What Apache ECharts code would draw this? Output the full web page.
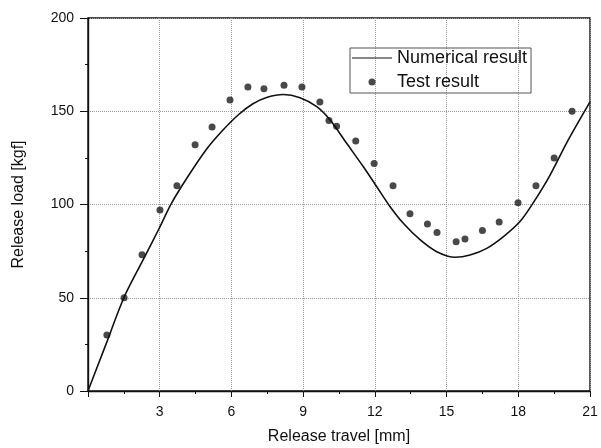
<!DOCTYPE html>
<html>
<head>
<meta charset="utf-8">
<script src="https://cdn.jsdelivr.net/npm/echarts@6/dist/echarts.min.js"></script>
<style>
  html, body { margin: 0; padding: 0; background: #fff; }
  #chart { width: 601px; height: 448px; }
</style>
</head>
<body>
<div id="chart"></div>
<script>
// numerical curve
var numX = [0, 0.75, 1.5, 2.25, 2.97, 3.49, 4.18, 4.95, 5.58, 6.28, 6.9, 7.5, 8.17, 8.87, 9.57, 10.13, 10.82, 11.52, 12.08, 12.6, 13.19, 13.9, 14.59, 15.36, 15.98, 16.68, 17.38, 18.08, 18.63, 19.33, 20.03, 21];
var numY = [0, 25, 50, 69, 87, 100.6, 115, 129.5, 139, 148, 154, 157.5, 159, 157.3, 152.5, 145.3, 132.8, 120.2, 109.5, 99.5, 89.9, 81, 74.7, 71.7, 72.9, 76.5, 82.8, 91, 101, 115.8, 133.2, 155];

// test points
var testX = [0.79, 1.51, 2.26, 3.01, 3.72, 4.48, 5.19, 5.94, 6.69, 7.36, 8.2, 8.95, 9.7, 10.08, 10.4, 11.2, 11.97, 12.76, 13.47, 14.2, 14.6, 15.4, 15.77, 16.5, 17.2, 17.99, 18.74, 19.5, 20.25];
var testY = [30, 50, 73, 97, 110, 132, 141.5, 156, 163, 162, 164, 163, 155, 145, 142, 134, 122, 110, 95, 89.5, 85, 80, 81.5, 86, 90.6, 101, 110, 125, 150];

var xTicks = [3, 6, 9, 12, 15, 18, 21];

function pairs(xs, ys) {
    var out = [];
    for (var i = 0; i < xs.length; i++) out.push([xs[i], ys[i]]);
    return out;
}

var chart = echarts.init(document.getElementById('chart'));
var font = 'Liberation Sans, Arial, sans-serif';
var option = {
    backgroundColor: '#fff',
    animation: false,
    textStyle: { fontFamily: font },
    grid: {
        left: 88, right: 11, top: 18, bottom: 57, outerBoundsMode: 'none',
        show: true, borderColor: '#111', borderWidth: 1.4
    },
    legend: {
        left: 350, top: 48, orient: 'vertical',
        itemGap: 6, itemWidth: 40, itemHeight: 7,
        borderColor: '#555', borderWidth: 1, padding: [1, 4, 2, 2],
        textStyle: { fontSize: 18, color: '#111', fontFamily: font, padding: [0, 0, 0, 0] },
        data: [
            { name: 'Numerical result', icon: 'path://M0,0L40,0L40,1L0,1Z' },
            { name: 'Test result', icon: 'circle' }
        ]
    },
    xAxis: {
        type: 'value', min: 0, max: 21, interval: 3,
        name: 'Release travel [mm]', nameLocation: 'middle', nameGap: 38,
        nameTextStyle: { fontSize: 16, color: '#111', fontFamily: font },
        axisLine: { lineStyle: { color: '#111', width: 1.4 } },
        axisTick: { lineStyle: { color: '#111' }, length: 6 },
        minorTick: { show: true, splitNumber: 2, length: 3, lineStyle: { color: '#111' } },
        axisLabel: {
            fontSize: 14, color: '#111', margin: 14,
            formatter: function (v) { return xTicks.indexOf(v) >= 0 ? String(v) : ''; }
        },
        splitLine: { show: true, lineStyle: { type: 'dotted', color: '#999' } }
    },
    yAxis: {
        type: 'value', min: 0, max: 200, interval: 50,
        name: 'Release load [kgf]', nameLocation: 'middle', nameGap: 61,
        nameTextStyle: { fontSize: 16, color: '#111', fontFamily: font },
        axisLine: { show: true, lineStyle: { color: '#111', width: 1.4 } },
        axisTick: { show: true, lineStyle: { color: '#111' }, length: 8 },
        minorTick: { show: true, splitNumber: 2, length: 3, lineStyle: { color: '#111' } },
        axisLabel: { fontSize: 14, color: '#111', margin: 14 },
        splitLine: { show: true, lineStyle: { type: 'dotted', color: '#999' } }
    },
    series: [{
        name: 'Numerical result',
        type: 'line',
        smooth: 0.3,
        symbol: 'none',
        lineStyle: { color: '#111', width: 1.6 },
        itemStyle: { color: '#111' },
        data: pairs(numX, numY)
    }, {
        name: 'Test result',
        type: 'scatter',
        symbolSize: 7,
        itemStyle: { color: '#1c1c1c' },
        data: pairs(testX, testY)
    }]
};
chart.setOption(option);
</script>
</body>
</html>
